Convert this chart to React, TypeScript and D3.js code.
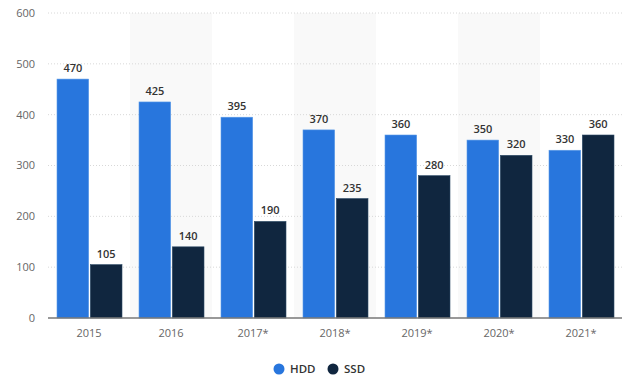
import React from "react";
import * as d3 from "d3";

const categories = ["2015", "2016", "2017*", "2018*", "2019*", "2020*", "2021*"];
const hdd = [470, 425, 395, 370, 360, 350, 330];
const ssd = [105, 140, 190, 235, 280, 320, 360];
const yTicks = [0, 100, 200, 300, 400, 500, 600];
const seriesNames = ["HDD", "SSD"];
const colors = ["#2876dd", "#10263f"];

export default function App() {
  const W = 640, H = 391;
  const left = 48, right = 622, top = 13, bottom = 318;
  const x = d3.scaleBand().domain(categories).range([left, right]).padding(0);
  const y = d3.scaleLinear().domain([0, 600]).range([bottom, top]);
  const inner = d3.scaleBand().domain(seriesNames).range([9, x.bandwidth() - 8]).paddingInner(0.05);
  const font = "'Open Sans', 'Noto Sans', Arial, sans-serif";
  const data = [hdd, ssd];
  return (
    <svg width={W} height={H} style={{ position: "absolute", left: 0, top: 0, fontFamily: font }}>
      <rect width={W} height={H} fill="#fff" />
      {categories.map((c, i) =>
        i % 2 === 1 ? (
          <rect key={c} x={x(c)} y={top} width={x.bandwidth()} height={bottom - top} fill="#f9f9f9" />
        ) : null
      )}
      {yTicks.map((t) => (
        <g key={t}>
          {t > 0 && (
            <line x1={left} x2={right} y1={y(t)} y2={y(t)} stroke="#d8d8d8" strokeDasharray="1,2" />
          )}
          <text x={35} y={y(t)} dy="0.35em" textAnchor="end" fontSize={11} fill="#666">
            {t}
          </text>
        </g>
      ))}
      {data.map((vals, s) =>
        vals.map((v, i) => {
          const bx = (x(categories[i]) as number) + (inner(seriesNames[s]) as number);
          const bw = inner.bandwidth();
          return (
            <g key={`${s}-${i}`}>
              <rect x={bx} y={y(v)} width={bw} height={bottom - y(v)} fill={colors[s]}
                stroke={s === 0 ? "#5b9be8" : "#2c4a66"} strokeWidth={0.6} />
              <text x={bx + bw / 2} y={y(v) - 7} textAnchor="middle" fontSize={11} fontWeight={600} fill="#333">
                {v}
              </text>
            </g>
          );
        })
      )}
      <line x1={left} x2={right} y1={bottom} y2={bottom} stroke="#777" strokeWidth={1.5} />
      {categories.map((c) => (
        <text key={c} x={(x(c) as number) + x.bandwidth() / 2} y={333} dy="0.35em" textAnchor="middle" fontSize={11} fill="#666">
          {c}
        </text>
      ))}
      <g>
        <circle cx={279} cy={369} r={5.5} fill={colors[0]} />
        <text x={290} y={369} dy="0.35em" fontSize={11.5} fontWeight={600} fill="#333">HDD</text>
        <circle cx={333} cy={369} r={5.5} fill={colors[1]} />
        <text x={344} y={369} dy="0.35em" fontSize={11.5} fontWeight={600} fill="#333">SSD</text>
      </g>
    </svg>
  );
}
